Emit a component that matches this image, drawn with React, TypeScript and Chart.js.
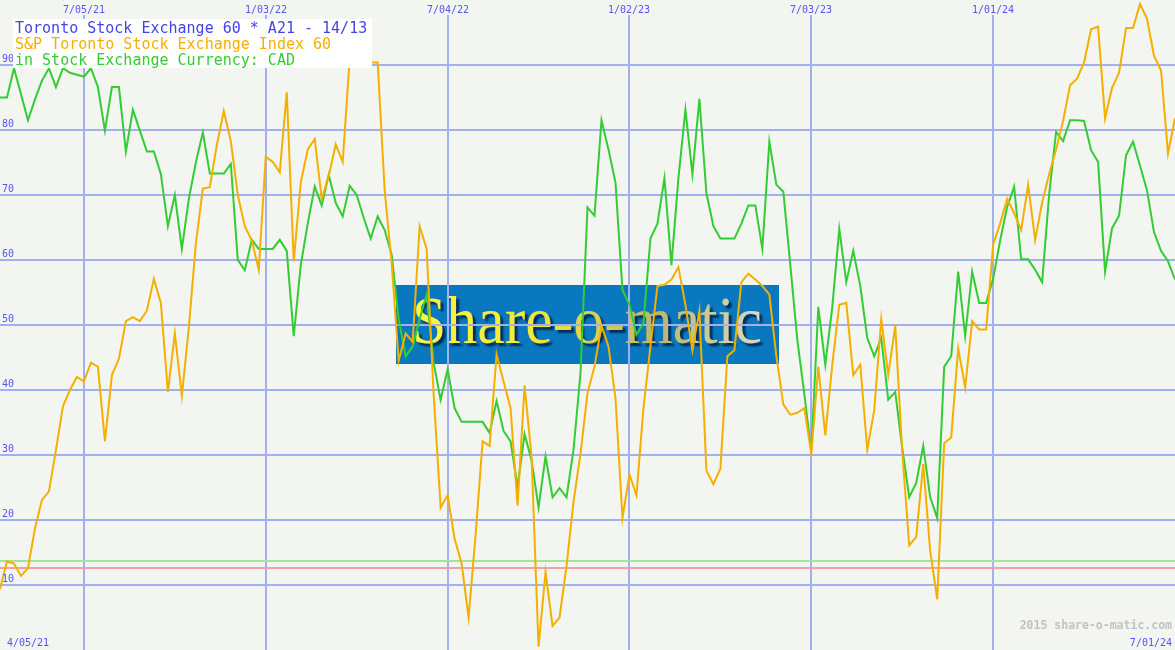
import React, { useEffect, useRef } from 'react';
import { Chart, registerables } from 'chart.js';

Chart.register(...registerables);

// S&P Toronto Stock Exchange Index 60 (orange), weekly
const indexSeries = [
  9.4, 13.6, 13.3, 11.4, 12.6, 18.7, 23.1, 24.4, 30.8, 37.5,
  40.0, 42.0, 41.3, 44.2, 43.6, 32.1, 42.3, 44.8, 50.6, 51.2,
  50.6, 52.2, 57.1, 53.4, 39.7, 48.7, 39.1, 49.6, 62.5, 71.0,
  71.2, 77.7, 82.9, 78.3, 70.0, 65.2, 63.0, 58.5, 75.9, 75.1,
  73.5, 85.8, 59.8, 71.9, 77.0, 78.6, 69.4, 72.9, 77.8, 75.1,
  91.0, 95.0, 95.0, 90.4, 90.4, 70.7, 59.5, 44.5, 48.7, 47.4,
  65.2, 61.7, 39.4, 21.9, 23.8, 17.1, 13.3, 5.0, 17.7, 32.1,
  31.4, 45.5, 41.3, 37.2, 22.2, 40.7, 29.8, 0.5, 12.0, 3.7,
  5.0, 12.9, 22.8, 30.2, 39.5, 43.6, 49.9, 46.7, 38.8, 20.3,
  27.0, 23.8, 37.2, 46.7, 56.0, 56.2, 57.0, 58.9, 53.1, 46.1,
  52.2, 27.6, 25.5, 27.9, 45.2, 46.1, 56.6, 57.9, 57.0, 56.0,
  54.7, 45.2, 37.8, 36.2, 36.5, 37.2, 30.2, 43.6, 33.0, 43.9,
  53.1, 53.4, 42.3, 43.9, 30.8, 36.9, 50.9, 42.3, 49.9, 30.5,
  16.1, 17.4, 28.6, 15.2, 7.8, 31.8, 32.7, 46.4, 40.4, 50.6,
  49.3, 49.3, 62.4, 65.6, 69.4, 67.2, 64.6, 71.6, 63.1, 68.8,
  73.2, 77.0, 81.4, 86.9, 87.9, 90.4, 95.5, 95.9, 81.8, 86.5,
  88.8, 95.7, 95.7, 99.4, 97.1, 91.4, 89.2, 76.4, 81.8,
];

// Toronto Stock Exchange 60 (green), weekly
const stockSeries = [
  85.0, 85.0, 89.5, 85.5, 81.5, 84.7, 87.6, 89.5, 86.6, 89.5,
  88.8, 88.5, 88.2, 89.5, 86.6, 79.9, 86.6, 86.6, 76.7, 83.1,
  79.9, 76.7, 76.7, 73.2, 65.2, 70.0, 61.7, 69.4, 75.0, 79.6,
  73.3, 73.3, 73.3, 74.8, 60.0, 58.4, 63.1, 61.7, 61.7, 61.7,
  63.1, 61.4, 48.3, 59.2, 65.6, 71.3, 68.4, 73.1, 68.8, 66.7,
  71.4, 70.0, 66.5, 63.3, 66.7, 64.6, 60.8, 50.9, 45.2, 46.7,
  50.9, 54.7, 44.2, 38.5, 43.2, 37.2, 35.1, 35.1, 35.1, 35.1,
  33.4, 38.3, 33.7, 32.1, 25.1, 33.2, 29.2, 21.9, 29.8, 23.5,
  24.9, 23.5, 30.8, 42.6, 68.1, 66.8, 81.5, 77.0, 71.9, 55.4,
  53.1, 48.5, 50.3, 63.3, 65.6, 72.6, 59.2, 72.6, 83.1, 73.2,
  84.8, 70.3, 65.2, 63.3, 63.3, 63.3, 65.6, 68.4, 68.4, 61.7,
  78.2, 71.6, 70.5, 59.2, 47.7, 39.4, 30.5, 52.8, 43.9, 52.8,
  64.8, 56.6, 61.4, 56.0, 48.0, 45.2, 48.0, 38.5, 39.7, 31.1,
  23.5, 25.7, 31.4, 23.5, 20.3, 43.6, 45.2, 58.2, 48.3, 58.2,
  53.4, 53.4, 57.1, 63.0, 68.2, 71.3, 60.1, 60.1, 58.5, 56.6,
  70.0, 79.7, 78.3, 81.5, 81.5, 81.4, 76.9, 75.1, 58.2, 64.9,
  66.8, 76.1, 78.2, 74.5, 70.7, 64.3, 61.4, 59.8, 57.0,
];

const topTickLabels = ['7/05/21', '1/03/22', '7/04/22', '1/02/23', '7/03/23', '1/01/24'];
const topTickWeeks = [12, 38, 64, 90, 116, 142];
const yTickValues = [10, 20, 30, 40, 50, 60, 70, 80, 90];
const startDate = '4/05/21';
const endDate = '7/01/24';
const upperLevel = 13.7;
const lowerLevel = 12.65;
const titleLines = [
  'Toronto Stock Exchange 60 * A21 - 14/13',
  'S&P Toronto Stock Exchange Index 60',
  'in Stock Exchange Currency: CAD',
];

const BG = '#f3f5f1';
const GRID = '#a3b0ef';
const GREEN = '#33cc33';
const ORANGE = '#f5af00';
const LABEL_BLUE = '#5555ee';
const TITLE_BLUE = '#4444e6';
const MONO = '"DejaVu Sans Mono", "Liberation Mono", monospace';

const drawPlugin = {
  id: 'shareomatic',
  beforeDraw(chart: any) {
    const { ctx, width, height } = chart;
    ctx.save();
    ctx.fillStyle = BG;
    ctx.fillRect(0, 0, width, height);

    // logo
    const lx = 396, ly = 285, lw = 383, lh = 79;
    ctx.fillStyle = '#0a78be';
    ctx.fillRect(lx, ly, lw, lh);
    ctx.font = '67px "Liberation Serif", "DejaVu Serif", serif';
    const text = 'Share-o-matic';
    const m = ctx.measureText(text);
    const targetW = 350;
    const sx = targetW / m.width;
    ctx.translate(412, 343);
    ctx.scale(sx, 1);
    const grad = ctx.createLinearGradient(0, 0, m.width, 0);
    grad.addColorStop(0, '#fbf640');
    grad.addColorStop(0.35, '#f0e838');
    grad.addColorStop(0.7, '#bcb668');
    grad.addColorStop(1, '#d8dcc0');
    ctx.shadowColor = 'rgba(0,20,60,0.75)';
    ctx.shadowOffsetX = 3;
    ctx.shadowOffsetY = 3;
    ctx.shadowBlur = 2;
    ctx.fillStyle = grad;
    ctx.fillText(text, 0, 0);
    ctx.restore();
  },
  beforeDatasetsDraw(chart: any) {
    const { ctx, width, height } = chart;
    const xs = chart.scales.x;
    const ys = chart.scales.y;
    ctx.save();
    ctx.strokeStyle = GRID;
    ctx.lineWidth = 2;
    yTickValues.forEach((v) => {
      const py = Math.round(ys.getPixelForValue(v));
      ctx.beginPath();
      ctx.moveTo(0, py);
      ctx.lineTo(width, py);
      ctx.stroke();
    });
    topTickWeeks.forEach((w) => {
      const px = Math.round(xs.getPixelForValue(w));
      ctx.beginPath();
      ctx.moveTo(px, 15);
      ctx.lineTo(px, height);
      ctx.stroke();
    });
    // reference levels
    const gy = Math.round(ys.getPixelForValue(upperLevel));
    ctx.strokeStyle = '#a4e49a';
    ctx.beginPath();
    ctx.moveTo(0, gy);
    ctx.lineTo(width, gy);
    ctx.stroke();
    const ry = Math.round(ys.getPixelForValue(lowerLevel));
    ctx.strokeStyle = '#f0a2a0';
    ctx.beginPath();
    ctx.moveTo(0, ry);
    ctx.lineTo(width, ry);
    ctx.stroke();
    ctx.restore();
  },
  afterDraw(chart: any) {
    const { ctx, width } = chart;
    const xs = chart.scales.x;
    const ys = chart.scales.y;
    ctx.save();
    ctx.font = `10px ${MONO}`;
    ctx.fillStyle = LABEL_BLUE;
    ctx.textBaseline = 'alphabetic';
    ctx.textAlign = 'left';
    yTickValues.forEach((v) => {
      const py = Math.round(ys.getPixelForValue(v));
      ctx.fillText(String(v), 2, py - 3);
    });
    ctx.textAlign = 'center';
    topTickLabels.forEach((lab, i) => {
      const px = Math.round(xs.getPixelForValue(topTickWeeks[i]));
      ctx.fillText(lab, px, 13);
    });
    ctx.textAlign = 'left';
    ctx.fillText(startDate, 7, 646);
    ctx.textAlign = 'right';
    ctx.fillText(endDate, width - 3, 646);

    ctx.font = `bold 11.5px ${MONO}`;
    ctx.fillStyle = '#c2c2c2';
    ctx.fillText('2015 share-o-matic.com', width - 3, 629);

    // title box
    ctx.fillStyle = '#ffffff';
    ctx.fillRect(13, 19, 359, 49);
    ctx.textAlign = 'left';
    ctx.font = `15px ${MONO}`;
    const colors = [TITLE_BLUE, ORANGE, GREEN];
    titleLines.forEach((t, i) => {
      ctx.fillStyle = colors[i];
      ctx.fillText(t, 15, 32.5 + i * 16);
    });
    ctx.restore();
  },
};

export default function App() {
  const canvasRef = useRef<HTMLCanvasElement | null>(null);

  useEffect(() => {
    document.body.style.margin = '0';
    const canvas = canvasRef.current;
    if (!canvas) return;
    const toPoints = (arr: number[]) => arr.map((v, i) => ({ x: i, y: v }));
    const chart = new Chart(canvas, {
      type: 'line',
      data: {
        datasets: [
          {
            label: 'S&P Toronto Stock Exchange Index 60',
            data: toPoints(indexSeries),
            borderColor: ORANGE,
            borderWidth: 2,
            pointRadius: 0,
            tension: 0,
            fill: false,
          },
          {
            label: 'Toronto Stock Exchange 60',
            data: toPoints(stockSeries),
            borderColor: GREEN,
            borderWidth: 2,
            pointRadius: 0,
            tension: 0,
            fill: false,
          },
        ],
      },
      options: {
        animation: false,
        responsive: false,
        maintainAspectRatio: false,
        devicePixelRatio: 1,
        layout: { padding: 0 },
        plugins: {
          legend: { display: false },
          tooltip: { enabled: false },
        },
        scales: {
          x: { type: 'linear', display: false, min: 0, max: indexSeries.length - 1 },
          y: { type: 'linear', display: false, min: 0, max: 100 },
        },
      },
      plugins: [drawPlugin],
    });
    return () => chart.destroy();
  }, []);

  return (
    <div style={{ position: 'fixed', left: 0, top: 0, width: 1175, height: 650 }}>
      <canvas ref={canvasRef} width={1175} height={650} style={{ display: 'block' }} />
    </div>
  );
}
